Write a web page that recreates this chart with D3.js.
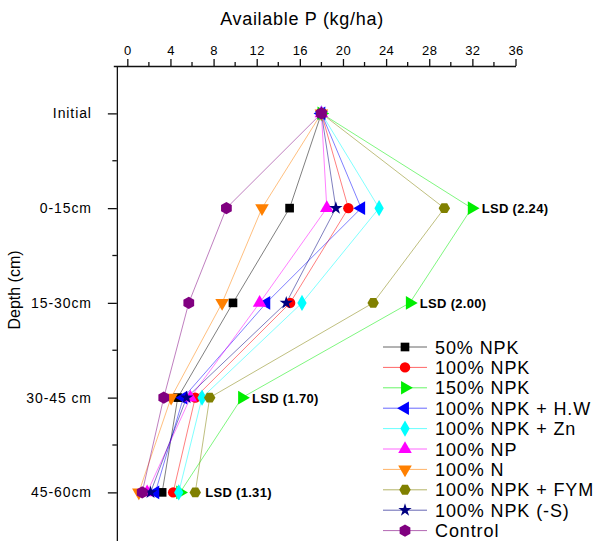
<!DOCTYPE html>
<html>
<head>
<meta charset="utf-8">
<script src="https://cdn.jsdelivr.net/npm/d3@7"></script>
<style>
  body { margin: 0; background: #fff; }
  svg text { font-family: "Liberation Sans", Arial, sans-serif; }
</style>
</head>
<body>
<div id="chart"></div>
<script>
// depth rows, top to bottom
var depths = ["Initial", "0-15cm", "15-30cm", "30-45 cm", "45-60cm"];
var xTicks = [0, 4, 8, 12, 16, 20, 24, 28, 32, 36];
var lsdLabels = [null, "LSD (2.24)", "LSD (2.00)", "LSD (1.70)", "LSD (1.31)"];

// available P (kg/ha) per treatment, one value per depth row
var npk50   = [18.0, 15.05, 9.8, 4.68, 3.23];
var npk100  = [18.0, 20.5, 15.1, 6.3, 4.25];
var npk150  = [18.0, 31.94, 26.2, 10.64, 4.9];
var npkHW   = [18.0, 21.69, 12.89, 5.2, 2.6];
var npkZn   = [18.0, 23.35, 16.2, 6.93, 4.77];
var np100   = [18.0, 18.5, 12.27, 5.85, 1.84];
var n100    = [18.0, 12.49, 8.79, 4.06, 1.07];
var npkFYM  = [18.0, 29.4, 22.8, 7.64, 6.3];
var npkNoS  = [18.0, 19.34, 14.74, 5.5, 2.15];
var control = [18.0, 9.19, 5.7, 3.38, 1.38];

var seriesNames = ["50% NPK", "100% NPK", "150% NPK", "100% NPK + H.W", "100% NPK + Zn",
                   "100% NP", "100% N", "100% NPK + FYM", "100% NPK (-S)", "Control"];
var seriesValues = [npk50, npk100, npk150, npkHW, npkZn, np100, n100, npkFYM, npkNoS, control];

var colors = ["#000000", "#ff0000", "#00ee00", "#0000ff", "#00ffff",
              "#ff00ff", "#ff8000", "#808000", "#000080", "#800080"];

var hexagon = {
  draw: function(ctx, size) {
    var r = Math.sqrt(size / (1.5 * Math.sqrt(3)));
    for (var k = 0; k < 6; k++) {
      var a = Math.PI / 3 * k;
      if (k === 0) ctx.moveTo(r * Math.cos(a), r * Math.sin(a));
      else ctx.lineTo(r * Math.cos(a), r * Math.sin(a));
    }
    ctx.closePath();
  }
};

// symbol + rotation for each series
var shapes = [
  {t: d3.symbolSquare, s: 75, r: 0},
  {t: d3.symbolCircle, s: 85, r: 0},
  {t: d3.symbolTriangle, s: 80, r: 90},
  {t: d3.symbolTriangle, s: 80, r: -90},
  {t: d3.symbolDiamond, s: 75, r: 0},
  {t: d3.symbolTriangle, s: 80, r: 0},
  {t: d3.symbolTriangle, s: 80, r: 180},
  {t: hexagon, s: 85, r: 0},
  {t: d3.symbolStar, s: 55, r: 0},
  {t: hexagon, s: 100, r: 90}
];

var width = 594, height = 541;

var svg = d3.select("#chart").append("svg")
    .attr("width", width)
    .attr("height", height);

var x = d3.scaleLinear().domain([-1.3, 36]).range([113.3, 515.5]);
var y = d3.scaleLinear().domain([-0.5, 4.6]).range([66, 66 + 5.1 * 94.75]);

// top axis
var xAxis = d3.axisTop(x).tickValues(xTicks).tickSizeInner(7).tickSizeOuter(0).tickPadding(4);
var gx = svg.append("g")
    .attr("transform", "translate(0," + y(-0.5) + ")")
    .call(xAxis);
gx.selectAll("text").style("font-size", "13px").style("letter-spacing", "0.4px").attr("fill", "#000");
gx.selectAll("line, path").attr("stroke", "#111").attr("stroke-width", 1.3);
gx.selectAll(".minor")
    .data(d3.range(2, 36, 4))
  .enter().append("line")
    .attr("x1", function(d) { return x(d); })
    .attr("x2", function(d) { return x(d); })
    .attr("y1", 0).attr("y2", -4)
    .attr("stroke", "#111").attr("stroke-width", 1.3);

svg.append("text")
    .attr("x", 302).attr("y", 25)
    .attr("text-anchor", "middle")
    .style("font-size", "18px")
    .style("letter-spacing", "0.7px")
    .attr("fill", "#000")
    .text("Available P (kg/ha)");

// left axis
var yAxis = d3.axisLeft(y).tickValues(d3.range(depths.length))
    .tickFormat(function(d) { return depths[d]; })
    .tickSizeInner(9).tickSizeOuter(0).tickPadding(16);
var gy = svg.append("g")
    .attr("transform", "translate(" + x(-0.97) + ",0)")
    .call(yAxis);
gy.selectAll("text").style("font-size", "14px").style("letter-spacing", "0.9px").attr("fill", "#000");
gy.selectAll("line, path").attr("stroke", "#111").attr("stroke-width", 1.3);
gy.selectAll(".minor")
    .data([0.5, 1.5, 2.5, 3.5])
  .enter().append("line")
    .attr("y1", function(d) { return y(d); })
    .attr("y2", function(d) { return y(d); })
    .attr("x1", 0).attr("x2", -4.5)
    .attr("stroke", "#111").attr("stroke-width", 1.3);

svg.append("text")
    .attr("transform", "translate(20,290) rotate(-90)")
    .attr("text-anchor", "middle")
    .style("font-size", "16px")
    .attr("fill", "#000")
    .text("Depth (cm)");

var line = d3.line()
    .x(function(d) { return x(d); })
    .y(function(d, i) { return y(i); });

// profile lines
svg.selectAll(".profile")
    .data(seriesValues)
  .enter().append("path")
    .attr("class", "profile")
    .attr("d", line)
    .attr("fill", "none")
    .attr("stroke", function(d, i) { return colors[i]; })
    .attr("stroke-opacity", 0.5)
    .attr("stroke-width", 1);

function symbolPath(i) {
  return d3.symbol().type(shapes[i].t).size(shapes[i].s)();
}

// markers
seriesValues.forEach(function(vals, i) {
  svg.append("g").selectAll("path")
      .data(vals)
    .enter().append("path")
      .attr("d", symbolPath(i))
      .attr("transform", function(d, j) {
        return "translate(" + x(d) + "," + y(j) + ") rotate(" + shapes[i].r + ")";
      })
      .attr("fill", colors[i]);
});

// LSD labels next to the largest value of each row
svg.selectAll(".lsd")
    .data(lsdLabels)
  .enter().filter(function(d) { return d; })
  .append("text")
    .attr("class", "lsd")
    .attr("x", function(d) {
      var i = lsdLabels.indexOf(d);
      return x(d3.max(seriesValues, function(v) { return v[i]; })) + 10;
    })
    .attr("y", function(d) { return y(lsdLabels.indexOf(d)) + 5; })
    .style("font-size", "13px")
    .style("font-weight", "bold")
    .style("letter-spacing", "0.3px")
    .attr("fill", "#000")
    .text(function(d) { return d; });

// legend
var legend = svg.selectAll(".legend")
    .data(seriesNames)
  .enter().append("g")
    .attr("class", "legend")
    .attr("transform", function(d, i) { return "translate(383," + (347 + i * 20.4) + ")"; });

legend.append("line")
    .attr("x1", 0).attr("x2", 44)
    .attr("stroke", function(d, i) { return colors[i]; })
    .attr("stroke-opacity", 0.6);

legend.append("path")
    .attr("d", function(d, i) { return symbolPath(i); })
    .attr("transform", function(d, i) { return "translate(22,0) rotate(" + shapes[i].r + ")"; })
    .attr("fill", function(d, i) { return colors[i]; });

legend.append("text")
    .attr("x", 52)
    .attr("y", 6.5)
    .style("font-size", "18px")
    .style("letter-spacing", "0.9px")
    .attr("fill", "#000")
    .text(function(d) { return d; });
</script>
</body>
</html>
